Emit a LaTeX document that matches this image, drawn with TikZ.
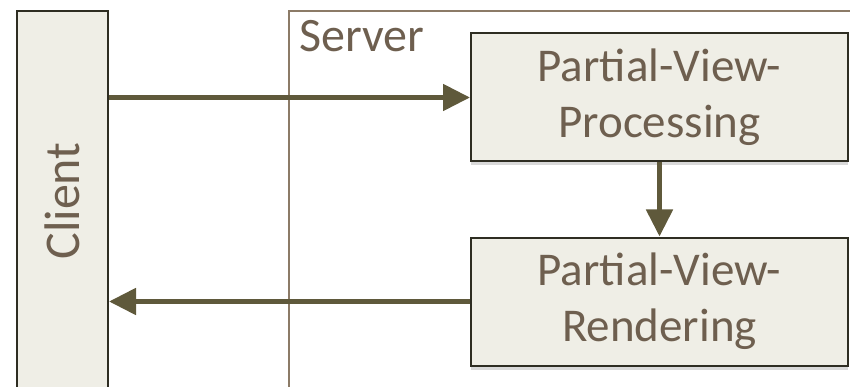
\documentclass[tikz,border=0pt]{standalone}
\usepackage{fontspec}
\setmainfont{Carlito}
\usetikzlibrary{arrows.meta,shadows}
\definecolor{boxfill}{HTML}{EFEEE6}
\definecolor{boxline}{HTML}{2E2D22}
\definecolor{flow}{HTML}{5F593B}
\definecolor{label}{HTML}{6E5F4F}
\definecolor{frame}{HTML}{8C7B67}
\tikzset{
  stage/.style={draw=boxline, line width=2pt, fill=boxfill, text=label, align=center,
    minimum width=377pt, minimum height=128pt, inner sep=0pt,
    font=\fontsize{47}{56}\selectfont,
    drop shadow={opacity=0.3, shadow xshift=0pt, shadow yshift=-4pt}},
  flowline/.style={draw=flow, line width=5pt, -{Triangle[length=27pt,width=26pt]}}
}
\begin{document}
\begin{tikzpicture}[x=1pt,y=-1pt]
      \useasboundingbox (0,0) rectangle (850,387);
      \clip (0,0) rectangle (850,387);
      \draw[frame, line width=1.5pt] (289,400) -- (289,11) -- (860,11);
      \draw
        (296,52) node[anchor=base west, text=label, font=\fontsize{48}{56}\selectfont] (server){Server}
        (62.5,201) node[draw=boxline, line width=2pt, fill=boxfill, text=label, rotate=90,
          minimum width=380pt, minimum height=91pt, inner sep=0pt,
          font=\fontsize{50}{56}\selectfont] (client){Client}
        (659.5,97.5) node[stage] (proc){Partial-View-\\Processing}
        (659.5,301.5) node[stage] (rend){Partial-View-\\Rendering};
      \begin{scope}[flowline]
        \draw (client.south |- proc.west) to (proc.west);
        \draw (proc.south) to (rend.north);
        \draw (rend.west) to (client.south |- rend.west);
      \end{scope}
    \end{tikzpicture}
\end{document}
